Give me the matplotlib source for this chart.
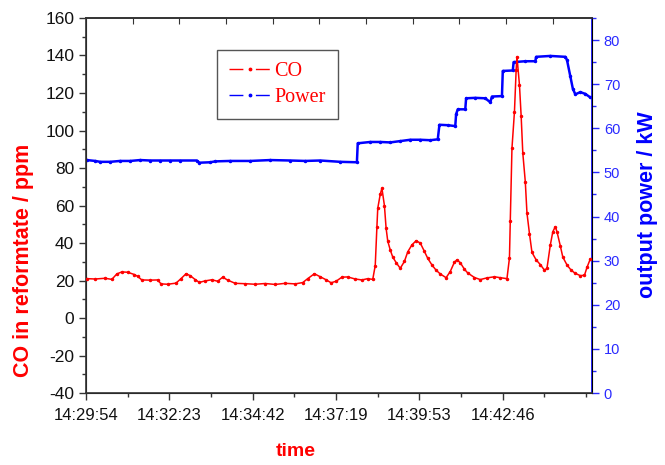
import matplotlib.pyplot as plt
from matplotlib.lines import Line2D
from matplotlib.ticker import MultipleLocator

plt.rcParams['axes.unicode_minus'] = False

# Valores (eixo x = indice da amostra)
co_idx = [1, 11, 23, 31, 37, 43, 50, 58, 62, 67, 77, 86, 90, 98, 108, 114, 120, 125,
          131, 136, 143, 151, 158, 164, 170, 179, 191, 203, 215, 227, 239, 251, 260,
          266, 274, 281, 288, 294, 300, 307, 314, 323, 331, 338, 344, 347, 349, 350,
          353, 355, 358, 360, 362, 365, 368, 372, 377, 382, 386, 391, 396, 401, 406,
          410, 415, 420, 425, 432, 437, 442, 445, 449, 454, 458, 466, 473, 481, 490,
          497, 505, 508, 509, 511, 514, 516, 517, 520, 522, 524, 527, 529, 532, 535,
          540, 545, 550, 553, 557, 560, 563, 565, 569, 572, 577, 582, 587, 593, 598,
          601, 605]
co_ppm = [21.0, 20.8, 21.2, 20.6, 23.5, 24.6, 24.4, 23.2, 22.2, 20.3, 20.2, 20.3, 18.2,
          18.0, 18.6, 21.0, 23.6, 22.6, 20.5, 19.0, 19.8, 20.4, 19.6, 21.8, 20.2, 18.5,
          18.3, 18.0, 18.4, 17.9, 18.5, 18.2, 18.9, 21.0, 23.6, 22.0, 20.4, 18.8, 19.6,
          21.8, 21.9, 20.8, 20.3, 21.0, 20.6, 28.0, 48.7, 58.5, 66.0, 69.2, 60.0, 48.0,
          41.0, 36.3, 32.5, 29.6, 26.5, 30.2, 35.3, 39.0, 41.2, 40.0, 35.5, 31.8, 28.3,
          25.5, 23.5, 21.5, 24.8, 29.8, 31.0, 29.5, 26.0, 24.0, 21.6, 20.5, 21.4, 22.0,
          21.5, 21.0, 32.0, 52.0, 90.5, 110.0, 132.0, 139.4, 124.3, 108.0, 88.0, 72.7,
          56.0, 45.0, 35.0, 31.0, 28.5, 25.5, 26.5, 38.9, 46.0, 48.7, 46.0, 38.5, 32.5,
          28.3, 25.5, 23.8, 22.6, 22.8, 27.0, 31.5]

pot_idx = [1, 11, 17, 29, 41, 53, 65, 77, 89, 101, 113, 133, 136, 149, 155, 173, 197,
           221, 245, 263, 281, 305, 325, 326, 341, 353, 365, 377, 389, 401, 413, 422,
           424, 434, 443, 444, 446, 455, 456, 467, 479, 485, 487, 499, 500, 512, 513,
           527, 539, 540, 557, 575, 577, 581, 584, 587, 593, 599, 605]
pot_kw = [52.8, 52.6, 52.4, 52.4, 52.6, 52.6, 52.8, 52.7, 52.7, 52.7, 52.7, 52.7, 52.2,
          52.3, 52.5, 52.6, 52.6, 52.8, 52.7, 52.6, 52.7, 52.4, 52.3, 56.6, 56.9, 56.9,
          56.8, 57.1, 57.4, 57.4, 57.3, 57.5, 60.8, 60.7, 60.5, 63.2, 64.3, 64.3, 66.8,
          66.9, 66.8, 65.9, 67.2, 67.3, 73.0, 73.1, 75.0, 75.2, 75.2, 76.2, 76.4, 76.2,
          75.5, 71.8, 69.0, 67.7, 68.2, 67.8, 67.0]

ticks_pos = [0, 100, 200, 300, 400, 500]
ticks_lbl = ['14:29:54', '14:32:23', '14:34:42', '14:37:19', '14:39:53', '14:42:46']

VERMELHO = '#ff0000'
AZUL = '#0000ff'
CINZA = '#333333'

fig = plt.figure(figsize=(6.65, 4.65), dpi=100)
ax = fig.add_axes([0.1293, 0.1548, 0.7609, 0.8065])
ax2 = ax.twinx()

ax.plot(co_idx, co_ppm, color=VERMELHO, lw=1.1, marker='.', ms=3, zorder=3)
ax2.plot(pot_idx, pot_kw, color=AZUL, lw=1.8, marker='.', ms=3)
# CO por cima da potencia
ax.set_zorder(ax2.get_zorder() + 1)
ax.patch.set_visible(False)

ax.set_xlim(0, 607)
ax.set_ylim(-40, 160)
ax2.set_ylim(0, 85)

ax.set_xticks(ticks_pos)
ax.set_xticklabels(ticks_lbl, fontsize=12, color='#111111', family='Liberation Sans')
ax.xaxis.set_minor_locator(MultipleLocator(50))
ax.yaxis.set_major_locator(MultipleLocator(20))
ax.yaxis.set_minor_locator(MultipleLocator(10))
ax2.yaxis.set_major_locator(MultipleLocator(10))
ax2.yaxis.set_minor_locator(MultipleLocator(5))

for lbl in ax.get_yticklabels():
    lbl.set_family('Liberation Sans')
ax.tick_params(axis='y', labelsize=12.5, labelcolor='#111111')
ax.tick_params(axis='both', which='both', direction='out', color=CINZA, width=1, top=False, right=False)
ax.tick_params(which='major', length=5)
ax.tick_params(which='minor', length=3)
ax.tick_params(axis='x', pad=6)

ax2.tick_params(axis='y', which='both', direction='out', colors='#2a2aff', width=1, labelsize=10.5)
ax2.tick_params(which='major', length=5)
ax2.tick_params(which='minor', length=3)
for lbl in ax2.get_yticklabels():
    lbl.set_family('Liberation Sans')

# ticks superiores sem rotulo
sec = ax.secondary_xaxis('top')
sec.set_xticks([56 * k for k in range(1, 11)])
sec.tick_params(direction='in', length=4, color=CINZA, labeltop=False)
sec.spines['top'].set_visible(False)

for nome in ['left', 'bottom', 'top']:
    ax.spines[nome].set_color(CINZA)
    ax.spines[nome].set_linewidth(1.2)
ax2.spines['right'].set_color(AZUL)
ax2.spines['right'].set_linewidth(1.2)
ax2.spines['top'].set_color(CINZA)
ax2.spines['top'].set_linewidth(1.2)

fig.text(0.036, 0.44, 'CO in reformtate / ppm', rotation=90, ha='center', va='center',
         color=VERMELHO, fontsize=15.5, fontweight='bold', family='Liberation Sans')
fig.text(0.973, 0.56, 'output power / kW', rotation=90, ha='center', va='center',
         color=AZUL, fontsize=15.5, fontweight='bold', family='Liberation Sans')
fig.text(0.445, 0.028, 'time', ha='center', va='center',
         color=VERMELHO, fontsize=14, fontweight='bold', family='Liberation Sans')

padrao = (0, (10, 9, 10, 100))
proxies = [
    Line2D([], [], color=VERMELHO, lw=1, ls=padrao, marker='.', ms=3.5),
    Line2D([], [], color=AZUL, lw=1, ls=padrao, marker='.', ms=3.5),
]
leg = ax.legend(proxies, ['CO', 'Power'], loc='upper left', bbox_to_anchor=(0.259, 0.915),
                borderaxespad=0, numpoints=1, handlelength=2.05, handletextpad=0.2,
                fancybox=False, framealpha=1, edgecolor='#555555', borderpad=0.6,
                labelspacing=0.35, prop={'family': 'Liberation Serif', 'size': 14.5})
leg.get_frame().set_linewidth(1.0)
for txt in leg.get_texts():
    txt.set_color(VERMELHO)

fig.savefig('out.png', dpi=100)
